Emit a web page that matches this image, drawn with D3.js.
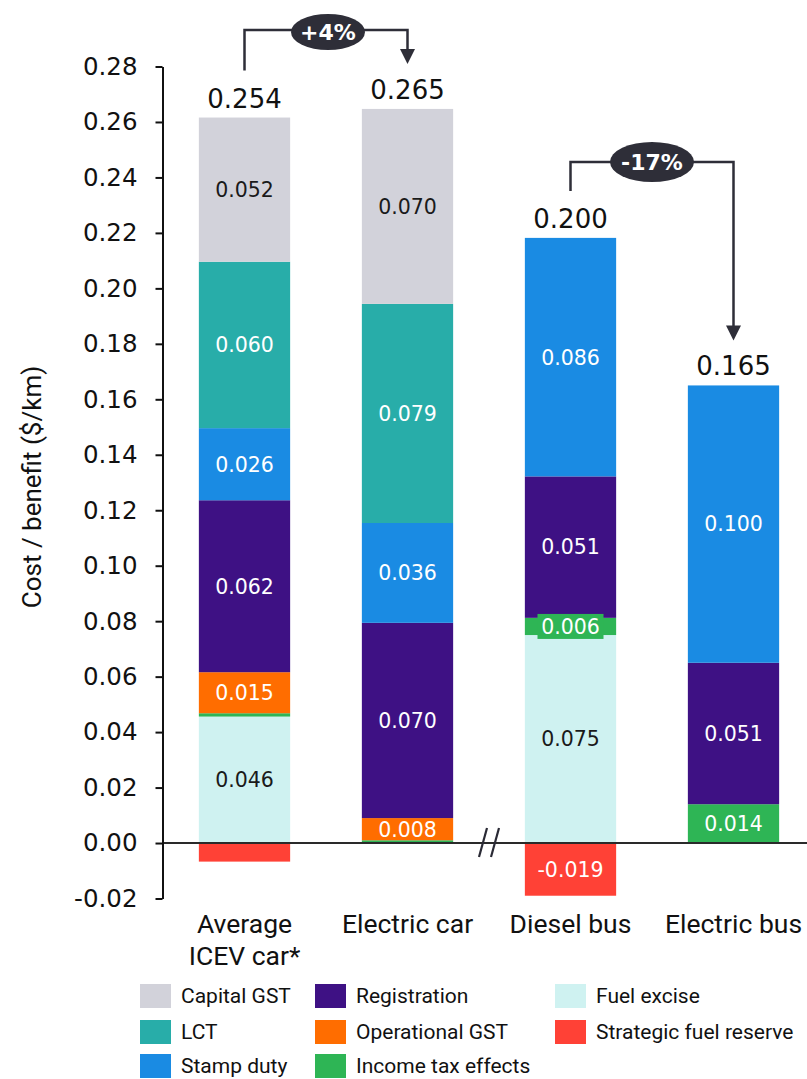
<!DOCTYPE html>
<html><head><meta charset="utf-8">
<script src="https://cdn.jsdelivr.net/npm/d3@7"></script>
<style>html,body{margin:0;padding:0;background:#fff;}svg{display:block;}</style>
</head><body>
<svg id="chart" width="807" height="1079"></svg>
<script>
// ---------- data ----------
const categories = ["Average ICEV car*", "Electric car", "Diesel bus", "Electric bus"];
const categoryLines = [["Average", "ICEV car*"], ["Electric car"], ["Diesel bus"], ["Electric bus"]];
const seriesNames = ["Fuel excise", "Income tax effects", "Operational GST", "Registration", "Stamp duty", "LCT", "Capital GST", "Strategic fuel reserve"];
const fuelExcise      = [0.0456, 0,      0.075,  0];
const incomeTax       = [0.0012, 0.001,  0.0062, 0.014];
const operationalGST  = [0.0148, 0.008,  0,      0];
const registration    = [0.062,  0.0704, 0.051,  0.051];
const stampDuty       = [0.026,  0.036,  0.086,  0.100];
const lct             = [0.060,  0.079,  0,      0];
const capitalGST      = [0.052,  0.0703, 0,      0];
const strategicFuel   = [-0.0067, 0,     -0.019, 0];
const totals          = ["0.254", "0.265", "0.200", "0.165"];
const yTicks = [-0.02, 0, 0.02, 0.04, 0.06, 0.08, 0.10, 0.12, 0.14, 0.16, 0.18, 0.20, 0.22, 0.24, 0.26, 0.28];
const legendOrder = ["Capital GST", "LCT", "Stamp duty", "Registration", "Operational GST", "Income tax effects", "Fuel excise", "Strategic fuel reserve"];
const hiddenLabels = [["Strategic fuel reserve", "Average ICEV car*"]];
const comparisons = [{from: "Average ICEV car*", to: "Electric car", text: "+4%"},
                     {from: "Diesel bus", to: "Electric bus", text: "-17%"}];

// ---------- styles ----------
const colors = {
  "Capital GST": "#d2d2da", "LCT": "#28ada9", "Stamp duty": "#1a8be3",
  "Registration": "#3e1184", "Operational GST": "#ff6d00", "Income tax effects": "#2eb555",
  "Fuel excise": "#cff2f1", "Strategic fuel reserve": "#ff4136"
};
const darkText = new Set(["Capital GST", "Fuel excise"]);
const seriesValues = {
  "Fuel excise": fuelExcise, "Income tax effects": incomeTax, "Operational GST": operationalGST,
  "Registration": registration, "Stamp duty": stampDuty, "LCT": lct,
  "Capital GST": capitalGST, "Strategic fuel reserve": strategicFuel
};

const svg = d3.select("#chart");
const x = d3.scaleBand().domain(categories).range([163, 815]).paddingInner(0.44).paddingOuter(0.22);
const y = d3.scaleLinear().domain([-0.02, 0.28]).range([898.5, 66.5]);

// stacked segments
const segs = [];
categories.forEach((c, i) => {
  let pos = 0, neg = 0;
  seriesNames.forEach(s => {
    const v = seriesValues[s][i];
    if (!v) return;
    let y0, y1;
    if (v > 0) { y0 = pos; y1 = pos + v; pos = y1; } else { y0 = neg + v; y1 = neg; neg = y0; }
    segs.push({cat: c, series: s, v, y0, y1});
  });
});

svg.append("g").selectAll("rect").data(segs).join("rect")
  .attr("x", d => x(d.cat)).attr("width", x.bandwidth())
  .attr("y", d => y(d.y1)).attr("height", d => y(d.y0) - y(d.y1))
  .attr("fill", d => colors[d.series]);

// segment labels
const fmt = d3.format(".3f");
const labelled = segs.filter(d => Math.abs(d.v) >= 0.005 &&
  !hiddenLabels.some(h => h[0] === d.series && h[1] === d.cat));
const lg = svg.append("g");
labelled.forEach(d => {
  const cy = (y(d.y0) + y(d.y1)) / 2;
  const cx = x(d.cat) + x.bandwidth() / 2;
  const h = y(d.y0) - y(d.y1);
  if (h < 20) {
    lg.append("rect").attr("x", cx - 33).attr("y", cy - 12.5).attr("width", 66).attr("height", 25)
      .attr("fill", colors[d.series]);
  }
  lg.append("text").attr("x", cx).attr("y", cy).attr("dy", "0.36em")
    .attr("text-anchor", "middle")
    .attr("font-family", "DejaVu Sans").attr("font-size", 20.5)
    .attr("fill", darkText.has(d.series) ? "#1a1a1a" : "#ffffff")
    .text(fmt(d.v).replace("−", "-"));
});

// total labels
categories.forEach((c, i) => {
  const top = d3.max(segs.filter(d => d.cat === c), d => d.y1);
  svg.append("text").attr("x", x(c) + x.bandwidth() / 2).attr("y", y(top) - 10)
    .attr("text-anchor", "middle").attr("font-family", "DejaVu Sans").attr("font-size", 26)
    .attr("fill", "#111").text(totals[i]);
});

// zero line
svg.append("line").attr("x1", 162).attr("x2", 807).attr("y1", y(0)).attr("y2", y(0))
  .attr("stroke", "#2a2a2a").attr("stroke-width", 2);

// break mark
const bx = (x("Electric car") + x.bandwidth() + x("Diesel bus")) / 2;
[-6, 6].forEach(o => {
  svg.append("line").attr("x1", bx + o + 4).attr("y1", y(0) - 15).attr("x2", bx + o - 4).attr("y2", y(0) + 14)
    .attr("stroke", "#2a2a35").attr("stroke-width", 2.2);
});

// y axis
const yAxis = d3.axisLeft(y).tickValues(yTicks).tickSize(7).tickSizeOuter(0).tickPadding(18)
  .tickFormat(d => d3.format(".2f")(d).replace("−", "-"));
const ga = svg.append("g").attr("transform", "translate(162.5,0)").call(yAxis);
ga.select(".domain").attr("stroke", "#111").attr("stroke-width", 2);
ga.selectAll(".tick line").attr("stroke", "#111").attr("stroke-width", 2);
ga.selectAll(".tick text").attr("font-family", "DejaVu Sans").attr("font-size", 24.5).attr("fill", "#111");

// y title
svg.append("text").attr("transform", "translate(41,487) rotate(-90)")
  .attr("text-anchor", "middle").attr("font-family", "Roboto").attr("font-size", 26)
  .attr("fill", "#111").text("Cost / benefit ($/km)");

// category labels
categories.forEach((c, i) => {
  const t = svg.append("text").attr("x", x(c) + x.bandwidth() / 2).attr("y", 933)
    .attr("text-anchor", "middle").attr("font-family", "Roboto").attr("font-size", 26.5).attr("fill", "#111");
  categoryLines[i].forEach((l, j) => t.append("tspan").attr("x", x(c) + x.bandwidth() / 2).attr("dy", j ? 32 : 0).text(l));
});

// comparison arrows
const ink = "#2e2e38";
comparisons.forEach((cmp, k) => {
  const x0 = x(cmp.from) + x.bandwidth() / 2, x1 = x(cmp.to) + x.bandwidth() / 2;
  const top0 = d3.max(segs.filter(d => d.cat === cmp.from), d => d.y1);
  const top1 = d3.max(segs.filter(d => d.cat === cmp.to), d => d.y1);
  const startY = y(top0) - 47;
  const lineY = k === 0 ? 30 : 162;
  const endY = y(top1) - 47;
  svg.append("path").attr("d", `M${x0},${startY}V${lineY}H${x1}V${endY - 12}`)
    .attr("fill", "none").attr("stroke", ink).attr("stroke-width", 2.5);
  svg.append("path").attr("d", `M${x1 - 7.5},${endY - 13}L${x1 + 7.5},${endY - 13}L${x1},${endY + 2}Z`).attr("fill", ink);
  const ex = (x0 + x1) / 2 + (k === 0 ? 2 : 0);
  const rx = k === 0 ? 37 : 42;
  const ey = lineY + (k === 0 ? 2 : 0);
  svg.append("ellipse").attr("cx", ex).attr("cy", ey).attr("rx", rx).attr("ry", k === 0 ? 18 : 20).attr("fill", ink);
  svg.append("text").attr("x", ex).attr("y", ey).attr("dy", "0.36em").attr("text-anchor", "middle")
    .attr("font-family", "DejaVu Sans").attr("font-weight", "bold").attr("font-size", 22).attr("fill", "#fff")
    .text(cmp.text);
});

// legend
const legCols = [140, 315, 555];
const legRows = [996, 1032, 1066];
legendOrder.forEach((s, i) => {
  const col = Math.floor(i / 3), row = i % 3;
  const g = svg.append("g").attr("transform", `translate(${legCols[col]},${legRows[row]})`);
  g.append("rect").attr("x", 0).attr("y", -12).attr("width", 31).attr("height", 24).attr("fill", colors[s]);
  g.append("text").attr("x", 41).attr("y", 0).attr("dy", "0.35em")
    .attr("font-family", "Roboto").attr("font-size", 21).attr("fill", "#111").text(s);
});
</script>
</body></html>
